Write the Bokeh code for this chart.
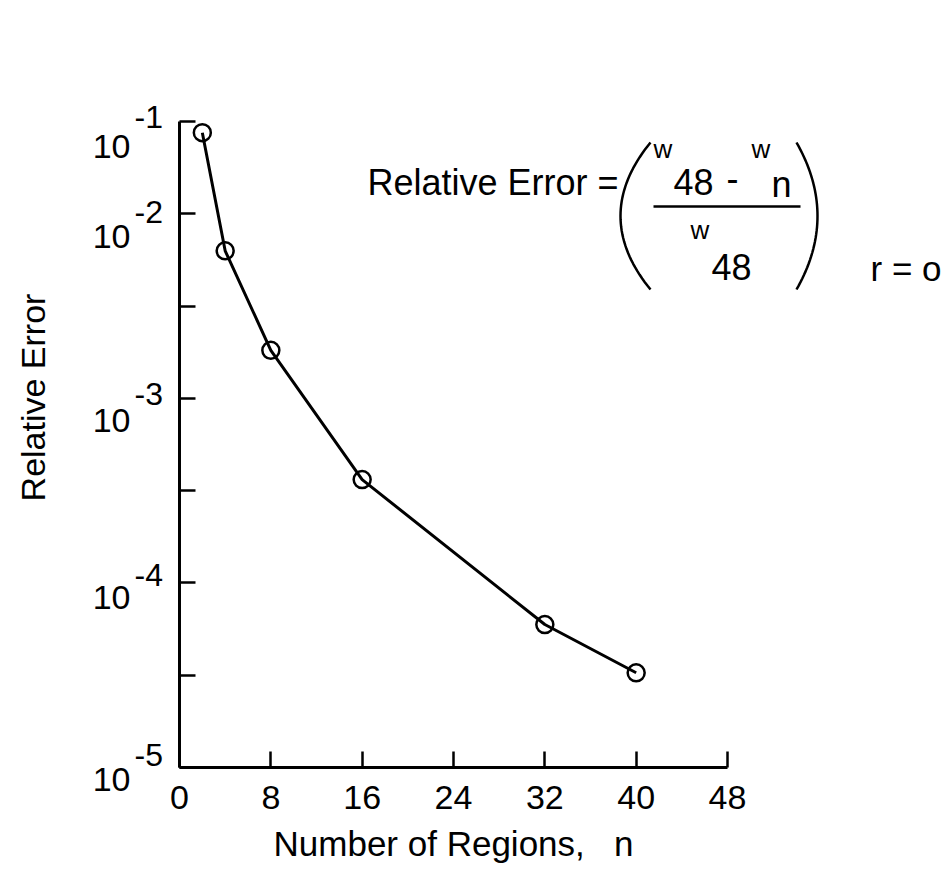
import numpy as np
from bokeh.plotting import figure
from bokeh.models import (FixedTicker, LabelSet, ColumnDataSource,
                          PolyAnnotation, Arrow, Range1d)
from bokeh.core.properties import value
from bokeh.embed import file_html
from bokeh.resources import INLINE

# ---------------- data ----------------
N_REGIONS = [2, 4, 8, 16, 32, 40]
REL_ERROR = [2.75e-2, 6.3e-3, 1.82e-3, 3.63e-4, 5.95e-5, 3.26e-5]

X_TICKS = [0, 8, 16, 24, 32, 40, 48]
Y_TICKS = [1e-5, 10 ** -4.5, 1e-4, 10 ** -3.5, 1e-3, 10 ** -2.5, 1e-2, 10 ** -1.5]
Y_LABEL_AT = [1e-5, 1e-4, 1e-3, 1e-2, 10 ** -1.5]
Y_LABEL_BASE = ["10", "10", "10", "10", "10"]
Y_LABEL_EXP = ["-5", "-4", "-3", "-2", "-1"]

X_TITLE = "Number of Regions,\u00a0\u00a0\u00a0n"
Y_TITLE = "Relative Error"

# ---------------- layout / style ----------------
FONT = "Liberation Sans"
W, H = 943, 867
# axis box in picture pixels: x 0..48 -> 179..727, log10 y -1.5..-5 -> 121..767
AX_L, AX_R, AX_T, AX_B = 179, 727, 121, 767
XMIN, XMAX = 0, 48
LOG_BOT, LOG_TOP = -5.0, -1.5
# hand-lettered tick labels sit slightly differently under each tick (px below tick)
BASE_DROP = [23, 26, 34, 34, 36]
EXP_DROP = [-2, 3, 7, 9, 6]


def dx(px):
    return XMIN + (px - AX_L) / (AX_R - AX_L) * (XMAX - XMIN)


def dy(py):
    return 10 ** (LOG_TOP - (py - AX_T) / (AX_B - AX_T) * (LOG_TOP - LOG_BOT))


p = figure(width=W, height=H, output_backend="svg", toolbar_location=None,
           x_range=Range1d(dx(0), dx(W)), y_range=Range1d(dy(H), dy(0)),
           y_axis_type="log",
           min_border_left=0, min_border_right=0, min_border_top=0, min_border_bottom=0)
p.background_fill_color = "white"
p.border_fill_color = "white"
p.outline_line_color = None
p.xgrid.visible = False
p.ygrid.visible = False

xa, ya = p.xaxis[0], p.yaxis[0]
xa.fixed_location = 10 ** LOG_BOT
ya.fixed_location = XMIN
xa.bounds = (XMIN, XMAX)
ya.bounds = (10 ** LOG_BOT, 10 ** LOG_TOP)

for ax in (xa, ya):
    ax.axis_line_width = 3
    ax.axis_line_color = "black"
    ax.major_tick_line_width = 2.5
    ax.major_tick_line_color = "black"
    ax.major_tick_in = 16
    ax.major_tick_out = 0
    ax.minor_tick_line_color = None

xa.ticker = FixedTicker(ticks=X_TICKS)
ya.ticker = FixedTicker(ticks=Y_TICKS)
ya.major_label_overrides = {t: "" for t in Y_TICKS}

xa.major_label_text_font = FONT
xa.major_label_text_font_size = "34px"
xa.major_label_text_color = "black"
xa.major_label_standoff = 18
xa.axis_label = X_TITLE
xa.axis_label_text_font = FONT
xa.axis_label_text_font_size = "35px"
xa.axis_label_text_font_style = "normal"
xa.axis_label_text_color = "black"
xa.axis_label_standoff = 12

# y tick labels: "10" with raised exponent
ysrc = ColumnDataSource(dict(x=[XMIN] * len(Y_LABEL_AT), y=Y_LABEL_AT,
                             base=Y_LABEL_BASE, exp=Y_LABEL_EXP,
                             boff=[-d for d in BASE_DROP], eoff=[-d for d in EXP_DROP]))
p.add_layout(LabelSet(x="x", y="y", text="base", source=ysrc,
                      x_offset=130 - AX_L, y_offset="boff",
                      text_align="right", text_baseline="alphabetic",
                      text_font=value(FONT), text_font_size="34px", text_color="black"))
p.add_layout(LabelSet(x="x", y="y", text="exp", source=ysrc,
                      x_offset=134 - AX_L, y_offset="eoff",
                      text_align="left", text_baseline="alphabetic",
                      text_font=value(FONT), text_font_size="32px", text_color="black"))

# y axis title (off-centre as in the original)
tsrc = ColumnDataSource(dict(x=[dx(44)], y=[dy(397)], t=[Y_TITLE]))
p.add_layout(LabelSet(x="x", y="y", text="t", source=tsrc, angle=np.pi / 2,
                      text_align="center", text_baseline="alphabetic",
                      text_font=value(FONT), text_font_size="34px", text_color="black"))

# ---------------- data marks ----------------
p.line(N_REGIONS, REL_ERROR, line_color="black", line_width=3)
p.scatter(N_REGIONS, REL_ERROR, marker="circle", size=17, fill_color=None,
          line_color="black", line_width=2.5)

# ---------------- formula annotation ----------------
F_TEXT = ["Relative Error =", "w", "48", "-", "w", "n", "w", "48", "r = o"]
F_LEFT = [367, 653, 673, 726, 751, 771, 690, 711, 870]
F_BASE = [194, 157, 194, 190, 157, 196, 238, 279, 280]
F_SIZE = ["36px", "26px", "36px", "36px", "26px", "36px", "26px", "36px", "35px"]

fsrc = ColumnDataSource(dict(x=[dx(v) for v in F_LEFT], y=[dy(v) for v in F_BASE],
                             t=F_TEXT, s=F_SIZE))
p.add_layout(LabelSet(x="x", y="y", text="t", source=fsrc,
                      text_align="left", text_baseline="alphabetic",
                      text_font=value(FONT), text_font_size="s", text_color="black"))

p.add_layout(Arrow(x_start=dx(653), y_start=dy(206), x_end=dx(800), y_end=dy(206),
                   end=None, start=None, line_color="black", line_width=2.5))

u = np.linspace(-1, 1, 41)


def paren(x_mid, depth, y_mid, half_h):
    xs = [dx(x_mid + depth * v * v) for v in u]
    ys = [dy(y_mid + half_h * v) for v in u]
    xs = xs + xs[::-1]
    ys = ys + ys[::-1]
    p.add_layout(PolyAnnotation(xs=xs, ys=ys, fill_alpha=0, line_color="black",
                                line_alpha=1, line_width=2.5))


paren(620, 30, 215.5, 73.5)
paren(817, -21, 215.5, 73.5)

open("out.html", "w").write(file_html(p, INLINE))
